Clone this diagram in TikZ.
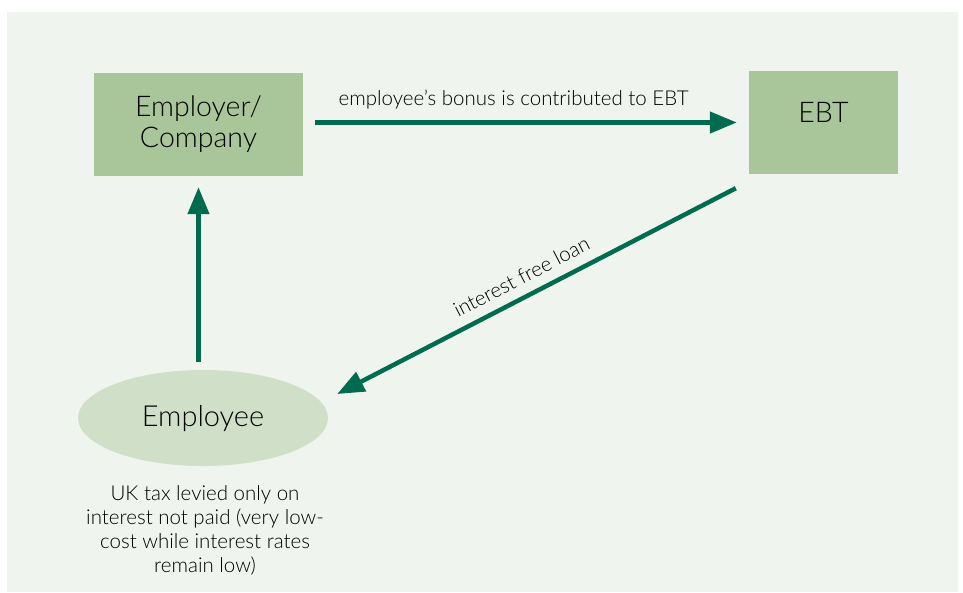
\documentclass[tikz,border=0pt]{standalone}
\usepackage{fontspec}
\setmainfont{Lato}[UprightFont=* Light]
\usetikzlibrary{shapes.geometric,arrows.meta}

\definecolor{panelbg}{HTML}{EFF4EE}
\definecolor{boxgreen}{HTML}{A9C59A}
\definecolor{ovalgreen}{HTML}{D0DFC8}
\definecolor{flowgreen}{HTML}{006B4F}

\begin{document}
\begin{tikzpicture}[x=1pt,y=-1pt,
	party/.style={fill=boxgreen, inner sep=0pt, align=center, font=\fontsize{28.5}{31}\selectfont},
	flow/.style={line width=4.5pt, draw=flowgreen, -{Triangle[length=27pt,width=21pt]}},
	flowlabel/.style={font=\fontsize{20.5}{24}\selectfont, inner sep=0pt}]
	%% ========================================================
	\useasboundingbox (0,0) rectangle (963,592);
	\fill[panelbg] (7,12) rectangle (958,592);

	\node[party, minimum width=209pt, minimum height=103pt] (employer) at (198.5,124.5) {Employer/\\Company};
	\node[party, minimum width=149pt, minimum height=103pt, text height=20pt, text depth=20pt] (ebt) at (823.5,122.5) {EBT};
	\node[ellipse, fill=ovalgreen, inner sep=0pt, minimum width=250pt, minimum height=96pt, font=\fontsize{29}{31}\selectfont] (employee) at (203,418) {Employee};

	\node[anchor=north, align=center, inner sep=0pt, font=\fontsize{20.5}{24}\selectfont] (note) at (205,485)
		{UK tax levied only on\\interest not paid (very low-\\cost while interest rates\\remain low)};
	%% ========================================================

	%% ========================================================
	% bonus paid in, loan paid out
	\coordinate (loanfrom) at ([xshift=-13pt,yshift=-14pt]ebt.south west);
	\coordinate (loanto) at ([xshift=9pt,yshift=24pt]employee.east);

	\draw[flow, shorten <=12pt, shorten >=12pt] (employer.east |- ebt.west) -- node[flowlabel, pos=0.472, above=11pt] {employee's bonus is contributed to EBT} (ebt.west);
	\draw[flow] (loanfrom) -- node[flowlabel, sloped, pos=0.515, above=10pt] {interest free loan} (loanto);
	\draw[flow, shorten <=8pt, shorten >=11pt] (employer.south |- employee.north) -- (employer.south);
	%% ========================================================
\end{tikzpicture}
\end{document}
